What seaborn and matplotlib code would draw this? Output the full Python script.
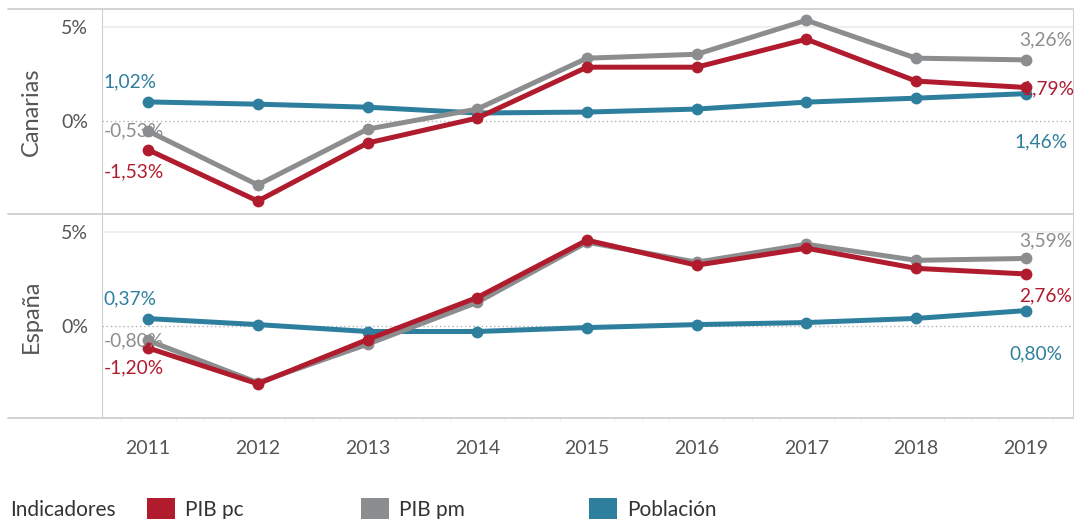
import matplotlib.pyplot as plt
import matplotlib.ticker as mticker
from matplotlib.lines import Line2D
from matplotlib.patches import Patch
import seaborn as sns
import pandas as pd

years = [2011, 2012, 2013, 2014, 2015, 2016, 2017, 2018, 2019]
indicadores = ['PIB pc', 'PIB pm', 'Población']

# Canarias
can_pib_pc = [-1.53, -4.26, -1.17, 0.16, 2.87, 2.87, 4.36, 2.13, 1.79]
can_pib_pm = [-0.53, -3.40, -0.43, 0.64, 3.35, 3.56, 5.37, 3.35, 3.26]
can_pob = [1.02, 0.90, 0.74, 0.43, 0.48, 0.64, 1.01, 1.22, 1.46]

# España
esp_pib_pc = [-1.20, -3.12, -0.75, 1.50, 4.57, 3.23, 4.14, 3.06, 2.76]
esp_pib_pm = [-0.80, -3.06, -1.00, 1.24, 4.46, 3.39, 4.35, 3.49, 3.59]
esp_pob = [0.37, 0.05, -0.32, -0.32, -0.11, 0.05, 0.16, 0.38, 0.80]

colors = {'PIB pc': '#B01C2E', 'PIB pm': '#8C8D8F', 'Población': '#2E7F9E'}
txt = '#555555'

sns.set_style('white')
plt.rcParams['font.family'] = ['Lato', 'DejaVu Sans']


def fmt(v):
    return f'{v:.2f}%'.replace('.', ',')


def make_df(pc, pm, pob):
    rows = []
    for name, vals in zip(indicadores, [pc, pm, pob]):
        for y, v in zip(years, vals):
            rows.append({'Año': y, 'Valor': v, 'Indicador': name})
    return pd.DataFrame(rows)


panels = [
    ('Canarias', make_df(can_pib_pc, can_pib_pm, can_pob)),
    ('España', make_df(esp_pib_pc, esp_pib_pm, esp_pob)),
]

# label offsets (pixels) for first / last point
offs_first = {
    'Canarias': {'PIB pc': (-14, -22), 'PIB pm': (-14, 0), 'Población': (-18, 20)},
    'España': {'PIB pc': (-14, -20), 'PIB pm': (-14, 0), 'Población': (-18, 20)},
}
offs_last = {
    'Canarias': {'PIB pc': (22, -1), 'PIB pm': (20, 20), 'Población': (15, -48)},
    'España': {'PIB pc': (20, -22), 'PIB pm': (20, 18), 'Población': (10, -43)},
}

fig = plt.figure(figsize=(10.74, 5.19), dpi=100)
ax_w = (1073 - 102) / 1074
ax_h = 204 / 519
axes = [fig.add_axes([102 / 1074, 1 - 214 / 519, ax_w, 205 / 519]),
        fig.add_axes([102 / 1074, 1 - 418 / 519, ax_w, ax_h])]

for ax, (name, df) in zip(axes, panels):
    ax.axhline(5, color='#EBEBEB', lw=1.2, zorder=0)
    ax.axhline(0, color='#B5B5B5', lw=1, ls=(0, (1, 2)), zorder=0)
    sns.lineplot(data=df[::-1], x='Año', y='Valor', hue='Indicador',
                 hue_order=indicadores[::-1], palette=colors, marker='o',
                 linewidth=3.6, markersize=8.5, markeredgewidth=0,
                 legend=False, ax=ax)
    for ind in indicadores:
        sub = df[df['Indicador'] == ind]
        first = sub.iloc[0]
        last = sub.iloc[-1]
        ax.annotate(fmt(first['Valor']), (first['Año'], first['Valor']),
                    xytext=offs_first[name][ind], textcoords='offset pixels',
                    ha='center', va='center', color=colors[ind], fontsize=13.8)
        ax.annotate(fmt(last['Valor']), (last['Año'], last['Valor']),
                    xytext=offs_last[name][ind], textcoords='offset pixels',
                    ha='center', va='center', color=colors[ind], fontsize=13.8)

    ax.set_xlim(2010.58, 2019.43)
    ax.set_ylim(-4.95, 5.97)
    ax.set_yticks([0, 5])
    ax.yaxis.set_major_formatter(mticker.FuncFormatter(lambda v, p: f'{v:.0f}%'))
    ax.tick_params(axis='y', labelsize=14, labelcolor=txt, length=0, pad=10)
    ax.set_ylabel(name, fontsize=17, color=txt, labelpad=14)
    ax.set_xlabel('')
    for s in ['top', 'bottom']:
        ax.spines[s].set_visible(False)
    ax.spines['left'].set_color('#D0D0D0')
    ax.spines['right'].set_color('#D0D0D0')

axes[0].set_xticks([])
axes[1].set_xticks(years)
axes[1].xaxis.set_minor_locator(mticker.MultipleLocator(0.25))
axes[1].tick_params(axis='x', labelsize=14, labelcolor=txt, length=4,
                    color='#E4E4E4', pad=12)
axes[1].tick_params(axis='x', which='minor', length=3, color='#EEEEEE',
                    bottom=True)

# horizontal separators across full width
for yp in [9, 214, 418]:
    fig.add_artist(Line2D([8 / 1074, 1073 / 1074], [1 - yp / 519] * 2,
                          color='#D0D0D0', lw=1.3))

handles = [Patch(facecolor=colors[i], edgecolor='none') for i in indicadores]
fig.text(10 / 1074, 1 - 510 / 519, 'Indicadores', fontsize=15, color='#333333',
         va='center')
for h, lab, xp in zip(handles, indicadores, [148, 362, 590]):
    fig.legend([h], [lab], loc='center left',
               bbox_to_anchor=(xp / 1074 - 0.018, 1 - 509 / 519),
               frameon=False, fontsize=15, handlelength=1.3,
               handleheight=1.15, handletextpad=0.5, labelcolor='#333333')

fig.savefig('out.png', dpi=100)
